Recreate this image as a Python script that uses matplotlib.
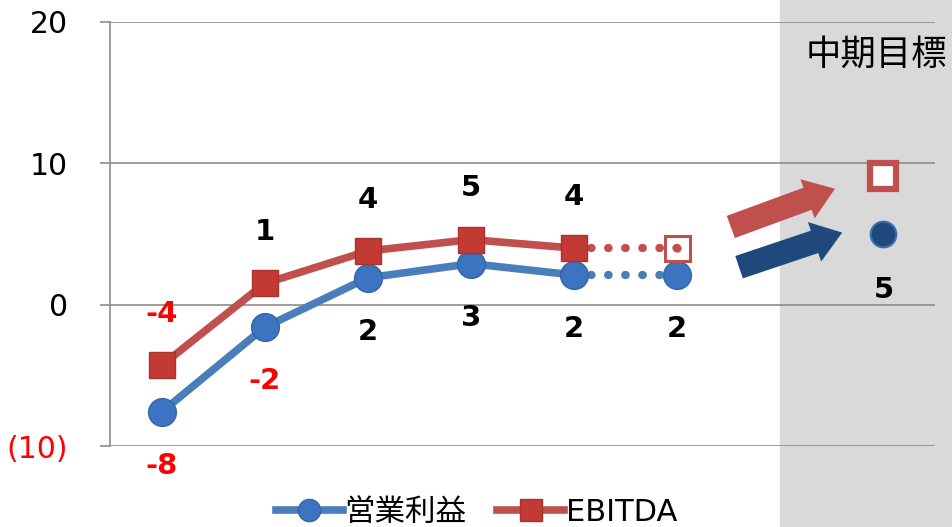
import matplotlib

matplotlib.use("Agg")
import matplotlib.pyplot as plt
from matplotlib.patches import Rectangle
from matplotlib.transforms import blended_transform_factory

plt.rcParams["font.family"] = ["DejaVu Sans", "Noto Sans CJK JP"]

# actuals (positions 0-5) and mid-term target (position 7)
periods = [0, 1, 2, 3, 4, 5]
target_pos = 7
op_profit = [-7.6, -1.6, 1.9, 2.9, 2.1, 2.1]
ebitda = [-4.3, 1.5, 3.8, 4.6, 4.0, 4.0]
op_labels = ["-8", "-2", "2", "3", "2", "2"]
ebitda_labels = ["-4", "1", "4", "5", "4", ""]
op_target = 5.0
ebitda_target = 9.1
op_target_label = "5"
yticks = [-10, 0, 10, 20]
ytick_labels = ["(10)", "0", "10", "20"]
series_names = ["営業利益", "EBITDA"]
target_title = "中期目標"

BLUE_LINE = "#4A7EBB"
BLUE_MARK = "#3C74C2"
BLUE_DARK = "#1F497D"
RED_LINE = "#C0504D"
RED_MARK = "#C23A33"
GRID = "#8C8C8C"

fig = plt.figure(figsize=(9.53, 5.27), dpi=100)
ax = fig.add_axes([0.1154, 0.1537, 0.8657, 0.8046])
ax.set_xlim(-0.5, 7.5)
ax.set_ylim(-10, 20)

# grey band behind the target column, running the full figure height
band_tf = blended_transform_factory(ax.transData, fig.transFigure)
ax.add_patch(Rectangle((6, 0), 5, 1, transform=band_tf, color="#D9D9D9",
                       clip_on=False, zorder=0.1))

ax.set_yticks(yticks)
ax.set_yticklabels(ytick_labels)
ax.set_xticks([])
ax.set_axisbelow(True)
ax.grid(axis="y", color=GRID, linewidth=1.2)
for side in ["top", "right", "bottom"]:
    ax.spines[side].set_visible(False)
ax.spines["left"].set_color(GRID)
ax.spines["left"].set_linewidth(1.2)
ax.tick_params(axis="y", length=7, width=1.2, color=GRID, labelsize=21.5, pad=23)
for lbl in ax.get_yticklabels():
    if lbl.get_text().startswith("("):
        lbl.set_color("red")

# solid lines through the first five periods, dotted to the latest estimate
ax.plot(periods[:5], op_profit[:5], color=BLUE_LINE, lw=5.5, marker="o",
        ms=20, mfc=BLUE_MARK, mec="#3465A4", mew=1, zorder=3,
        label=series_names[0])
ax.plot(periods[:5], ebitda[:5], color=RED_LINE, lw=5.5, marker="s",
        ms=19, mfc=RED_MARK, mec="#A8322D", mew=1, zorder=3,
        label=series_names[1])
ax.plot(periods[4:], op_profit[4:], color=BLUE_LINE, lw=6,
        linestyle=(0, (0.05, 2.0)), dash_capstyle="round", zorder=2)
ax.plot(periods[4:], ebitda[4:], color=RED_LINE, lw=6,
        linestyle=(0, (0.05, 2.0)), dash_capstyle="round", zorder=2)
ax.plot(periods[5], op_profit[5], marker="o", ms=20, mfc=BLUE_MARK,
        mec="#3465A4", mew=1, zorder=4)
ax.plot(periods[5], ebitda[5], marker="s", ms=18, mfc="none",
        mec=RED_LINE, mew=2.2, zorder=4)
ax.plot(periods[5], ebitda[5], marker="o", ms=6, mfc=RED_LINE,
        mec="none", zorder=4)

# targets
ax.plot(target_pos, ebitda_target, marker="s", ms=19, mfc="white",
        mec=RED_LINE, mew=4.5, zorder=4)
ax.plot(target_pos, op_target, marker="o", ms=18.5, mfc=BLUE_DARK,
        mec="#3C6FB0", mew=1.5, zorder=4)

# data labels
def label(x, y, text, dy):
    if not text:
        return
    color = "red" if text.startswith("-") else "black"
    ax.annotate(text, (x, y), xytext=(0, dy), textcoords="offset points",
                ha="center", va="center", fontsize=21, fontweight="bold",
                color=color, zorder=5)


for x, y, t in zip(periods, op_profit, op_labels):
    label(x, y, t, -39)
for x, y, t in zip(periods, ebitda, ebitda_labels):
    label(x, y, t, 37)
label(target_pos, op_target, op_target_label, -40)

ax.text(6.93, 17.7, target_title, ha="center", va="center", fontsize=25.5)

# trend arrows into the target column
arrow_kw = dict(arrowstyle="simple,head_width=1.5,head_length=1.05,tail_width=0.85",
                mutation_scale=20, lw=0, shrinkA=0, shrinkB=0)
ax.annotate("", xy=(6.53, 8.2), xytext=(5.52, 5.5),
            arrowprops=dict(color=RED_LINE, **arrow_kw), zorder=3)
ax.annotate("", xy=(6.6, 5.1), xytext=(5.6, 2.65),
            arrowprops=dict(color=BLUE_DARK, **arrow_kw), zorder=3)

handles, names = ax.get_legend_handles_labels()
leg = fig.legend(handles, names, loc="center", bbox_to_anchor=(0.5, 0.028),
                 ncol=2, frameon=False, fontsize=22, handlelength=2.2,
                 handletextpad=0.05, columnspacing=1.0, markerscale=0.8)

fig.savefig("out.png", dpi=100)
